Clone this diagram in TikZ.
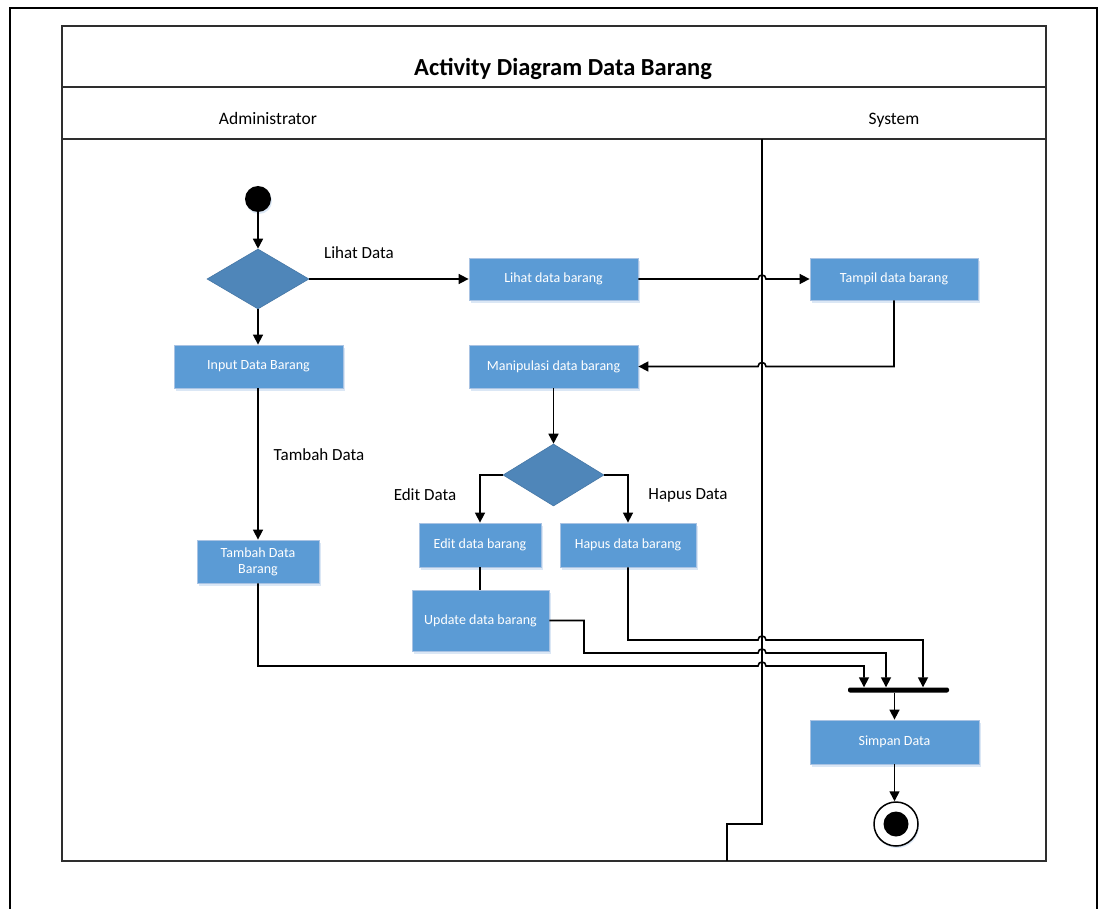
\documentclass[tikz,border=0pt]{standalone}
\usepackage{fontspec}
\setmainfont{Carlito}
\usetikzlibrary{arrows.meta,shapes.geometric,shadows}
\definecolor{boxblue}{HTML}{5B9BD5}
\definecolor{boxedge}{HTML}{A9C3E3}
\definecolor{diafill}{HTML}{4F86B9}
\definecolor{diaedge}{HTML}{4677A6}
\definecolor{frameline}{HTML}{2E2E2E}
\definecolor{glow}{HTML}{D3E2F3}

\begin{document}
\begin{tikzpicture}[x=1pt,y=-1pt,
  act/.style={rectangle, fill=boxblue, draw=boxedge, line width=0.8pt,
    text=white, font=\fontsize{14}{16}\selectfont, align=center, inner sep=0pt,
    drop shadow={shadow xshift=1.5pt, shadow yshift=-2.5pt, fill=glow, opacity=0.8}},
  decision/.style={diamond, fill=diafill, draw=diaedge, line width=0.6pt,
    inner sep=0pt, aspect=1.7},
  lbl/.style={font=\fontsize{17}{19}\selectfont, text=black},
  lane/.style={font=\fontsize{17.5}{19}\selectfont, anchor=base},
  flow/.style={draw=black, line width=1.6pt, -{Triangle[length=10pt,width=10pt]}},
  plain/.style={draw=black, line width=1.6pt},
  frame/.style={draw=frameline, line width=1.5pt},
]
\useasboundingbox (0,0) rectangle (1102,909);
\fill[white] (0,0) rectangle (1102,909);

% outer border (open at the page bottom)
\begin{scope}
  \clip (0,0) rectangle (1102,909);
  \draw[black, line width=2.5pt] (10,915) -- (10,8) -- (1097,8) -- (1097,915);
\end{scope}

% swimlane frame
\draw[frame] (62,26) rectangle (1046,861);
\draw[frame] (62,87) -- (1046,87);
\draw[frame] (62,139) -- (1046,139);
\node[font=\bfseries\fontsize{24.5}{27}\selectfont] (title) at (563,69) {Activity Diagram Data Barang};
\node[lane] (lane1) at (268,124.5) {Administrator};
\node[lane] (lane2) at (894,124.5) {System};

% lane divider
\coordinate (dtop) at (762,139);
\coordinate (dstep) at (762,824);
\coordinate (dstep2) at (727,824);
\coordinate (dbot) at (727,861);
\draw[plain] (dtop) -- (dstep) -- (dstep2) -- (dbot);

% nodes
\node[circle, fill=black, minimum size=26pt, inner sep=0pt,
  drop shadow={shadow xshift=1pt, shadow yshift=-2pt, fill=glow, opacity=0.8}] (start) at (258,199) {};
\node[decision, minimum width=102pt, minimum height=60pt] (d1) at (258,279) {};
\node[act, minimum width=169pt, minimum height=42pt] (lihat) at (553.5,279) {Lihat data barang};
\node[act, minimum width=168pt, minimum height=42pt] (tampil) at (894,279) {Tampil data barang};
\node[act, minimum width=169pt, minimum height=43pt] (input) at (258.5,366.5) {Input Data Barang};
\node[act, minimum width=169pt, minimum height=43pt] (manip) at (553.5,366.5) {Manipulasi data barang};
\node[decision, minimum width=101pt, minimum height=62pt] (d2) at (553.5,475) {};
\node[act, minimum width=122pt, minimum height=44pt] (edit) at (480,545) {Edit data barang};
\node[act, minimum width=136pt, minimum height=44pt] (hapus) at (628,545) {Hapus data barang};
\node[act, minimum width=137pt, minimum height=61pt] (update) at (480.5,620.5) {Update data barang};
\node[act, minimum width=122pt, minimum height=43pt] (tambah) at (258,561.5) {Tambah Data\\Barang};
\node[rectangle, fill=black, rounded corners=2pt, minimum width=101pt, minimum height=5pt, inner sep=0pt] (bar) at (898.5,690) {};
\node[act, minimum width=169pt, minimum height=44pt] (simpan) at (894.5,742) {Simpan Data};
\node[circle, fill=white, draw=black, line width=1.5pt, minimum size=44pt, inner sep=0pt,
  drop shadow={shadow xshift=1pt, shadow yshift=-2pt, fill=glow, opacity=0.8}] (final) at (896,824) {};
\node[circle, fill=black, minimum size=25pt, inner sep=0pt] (finaldot) at (final.center) {};

% guard labels
\node[lbl] (glihat) at (359,253) {Lihat Data};
\node[lbl] (gtambah) at (319,455) {Tambah Data};
\node[lbl] (gedit) at (425,495) {Edit Data};
\node[lbl] (ghapus) at (688,495) {Hapus Data};

% connectors
\draw[flow] (start) -- (d1.north);
\draw[flow] (d1.east) -- (d1.east -| lihat.west);
\draw[flow] (d1.south) -- (input.north -| d1.south);
\draw[flow] (input.south -| tambah.north) -- (tambah.north);
\draw[flow] (lihat.east) -- (758,279) .. controls (758,273.7) and (766,273.7) .. (766,279) -- (tampil.west);
\draw[flow] (tampil.south) -- (894,366.5) -- (766,366.5) .. controls (766,361.2) and (758,361.2) .. (758,366.5) -- (manip.east);
\draw[flow] (manip.south) -- (d2.north);
\draw[flow] (d2.west) -- (d2.west -| edit.north) -- (edit.north);
\draw[flow] (d2.east) -- (d2.east -| hapus.north) -- (hapus.north);
\draw[plain] (edit.south) -- (update.north -| edit.south);
\draw[flow] (tambah.south) -- (258,666) -- (758,666) .. controls (758,660.7) and (766,660.7) .. (766,666) -- (864,666) -- (bar.north -| 864,0);
\draw[flow] (update.east) -- (584,620.5) -- (584,653) -- (758,653) .. controls (758,647.7) and (766,647.7) .. (766,653) -- (886,653) -- (bar.north -| 886,0);
\draw[flow] (hapus.south) -- (628,640) -- (758,640) .. controls (758,634.7) and (766,634.7) .. (766,640) -- (923,640) -- (bar.north -| 923,0);
\draw[flow] (bar.south -| simpan.north) -- (simpan.north);
\draw[flow] (simpan.south) -- (final.north -| simpan.south);
\end{tikzpicture}
\end{document}
